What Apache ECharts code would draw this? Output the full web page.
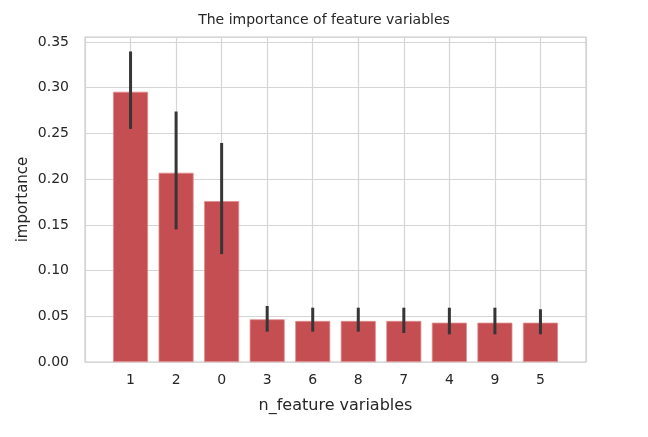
<!DOCTYPE html>
<html><head><meta charset="utf-8">
<script src="https://cdn.jsdelivr.net/npm/echarts@6/dist/echarts.min.js"></script>
<style>html,body{margin:0;padding:0;background:#fff}#c{width:648px;height:437px}</style>
</head><body><div id="c"></div>
<script>
var categories = ['1','2','0','3','6','8','7','4','9','5'];
var importance = [0.2956, 0.207, 0.176, 0.0467, 0.0449, 0.0449, 0.0449, 0.043, 0.043, 0.043];
var errLow  = [0.255, 0.145, 0.118, 0.0332, 0.0332, 0.0332, 0.0317, 0.0303, 0.0303, 0.0303];
var errHigh = [0.3397, 0.274, 0.2396, 0.0613, 0.0594, 0.0594, 0.0594, 0.0594, 0.0594, 0.0577];
var yTicks = [0, 0.05, 0.10, 0.15, 0.20, 0.25, 0.30, 0.35];

var font = 'DejaVu Sans, Liberation Sans, sans-serif';
var chart = echarts.init(document.getElementById('c'));
var barData = importance.map(function(v,i){return [i,v];});
var errData = importance.map(function(v,i){return [i,errLow[i],errHigh[i]];});
chart.setOption({
  animation:false,
  title:{text:'The importance of feature variables',left:'center',top:8,
    textStyle:{fontFamily:font,fontSize:14,fontWeight:'normal',color:'#262626'}},
  grid:{left:85,right:62,top:37,bottom:75,show:true,borderColor:'#cccccc',borderWidth:1.2},
  xAxis:{type:'value',min:-1,max:10,interval:1,
    name:'n_feature variables',nameLocation:'middle',nameGap:36,
    nameTextStyle:{fontFamily:font,fontSize:16,color:'#262626'},
    axisLine:{show:false},axisTick:{show:false},
    splitLine:{show:true,lineStyle:{color:'#d5d5d5',width:1.2}},
    axisLabel:{fontFamily:font,fontSize:14,color:'#262626',margin:11,
      formatter:function(v){return (v>=0&&v<categories.length)?categories[v]:'';}}},
  yAxis:{type:'value',min:0,max:0.3555,interval:0.05,
    name:'importance',nameLocation:'middle',nameGap:54,nameMoveOverlap:false,
    nameTextStyle:{fontFamily:font,fontSize:15,color:'#262626'},
    axisLine:{show:false},axisTick:{show:false},
    splitLine:{show:true,lineStyle:{color:'#d5d5d5',width:1.2}},
    axisLabel:{fontFamily:font,fontSize:14,color:'#262626',margin:16,showMaxLabel:false,
      formatter:function(v){return v.toFixed(2);}}},
  series:[
    {type:'bar',data:barData,barWidth:35,
      itemStyle:{color:'#c44e52',borderColor:'#e08a8c',borderWidth:0.8}},
    {type:'custom',data:errData,z:5,
      renderItem:function(params,api){
        var x=api.value(0);
        var p1=api.coord([x,api.value(1)]);
        var p2=api.coord([x,api.value(2)]);
        return {type:'line',shape:{x1:p1[0],y1:p1[1],x2:p2[0],y2:p2[1]},
          style:{stroke:'#363636',lineWidth:3}};
      }}
  ]
});
</script></body></html>
